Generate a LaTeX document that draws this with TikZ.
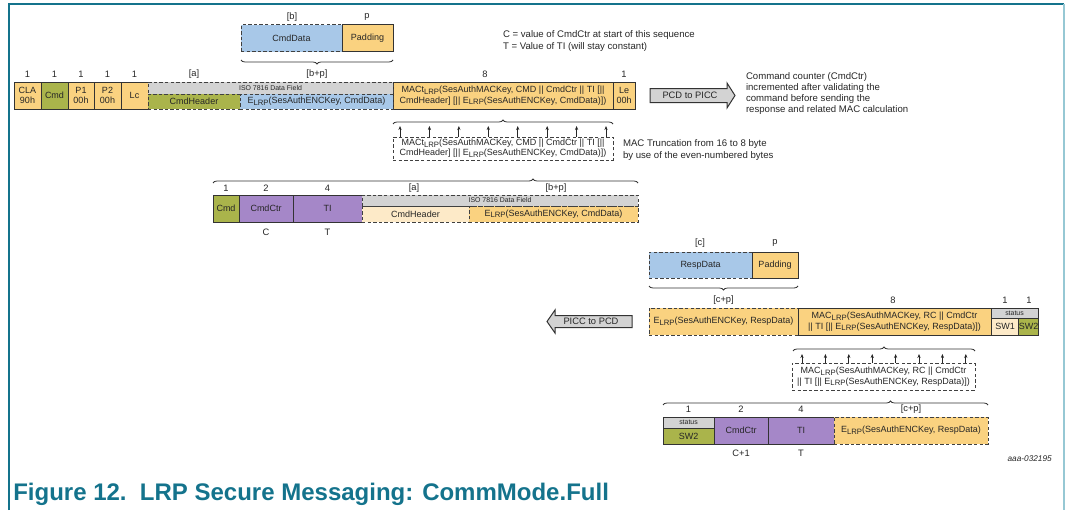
\documentclass[tikz,border=0pt]{standalone}
\usepackage{fontspec}
\setmainfont{Liberation Sans}
\usetikzlibrary{decorations.pathreplacing,arrows.meta,calc}
\definecolor{cOrange}{RGB}{250,210,128}
\definecolor{cOlive}{RGB}{170,180,75}
\definecolor{cBlue}{RGB}{168,200,232}
\definecolor{cGray}{RGB}{211,211,211}
\definecolor{cPurple}{RGB}{165,135,200}
\definecolor{cCream}{RGB}{253,234,200}
\definecolor{cTeal}{RGB}{20,115,140}
\definecolor{cFrameR}{RGB}{150,200,212}
\newcommand{\lrp}{\raisebox{-0.35ex}{\fontsize{5.8}{5.8}\selectfont LRP}}
\newcommand{\mycell}[7]{\node[#6, minimum width={(#4-#2)*0.75pt}, minimum height={(#5-#3)*0.75pt}] (#1) at ({(#2+#4)/2},{(#3+#5)/2}) {#7};}
\tikzset{
  base/.style={inner sep=0pt, outer sep=0pt, align=center, font=\fontsize{6.75}{8}\selectfont, text=black!85},
  solidbox/.style={base, draw=black!80, line width=0.75pt},
  dashbox/.style={base, draw=black!75, line width=0.75pt, dash pattern=on 2.6pt off 1.6pt},
  small/.style={font=\fontsize{5.2}{6}\selectfont},
  tight/.style={font=\fontsize{6.75}{7.4}\selectfont},
  lbl/.style={inner sep=0pt, outer sep=0pt, align=center, font=\fontsize{7}{8.2}\selectfont, text=black!85},
  note/.style={inner sep=0pt, outer sep=0pt, align=left, anchor=west, text=black!85},
  brc/.style={decorate, decoration={brace, amplitude=3pt}, line width=0.6pt, draw=black!80},
  tick/.style={-{Stealth[length=3pt,width=2.4pt]}, line width=0.6pt, draw=black!85},
  dirarrow/.style={draw=black!80, fill=cGray, line width=0.75pt},
  frameline/.style={draw=cTeal, line width=1.2pt}
}
\begin{document}
\begin{tikzpicture}[x=0.75pt,y=-0.75pt]
\useasboundingbox (0,0) rectangle (1066,510);
% frame
\draw[frameline] (9,510) -- (9,4) -- (1064,4);
\draw[draw=cFrameR, line width=1.2pt] (1064,4) -- (1064,510);

% ---------- top: command data + padding
\node[lbl] (lb) at (292,17) {[b]};
\node[lbl] (lp) at (367,17) {p};
\mycell{cmddata}{241}{25}{342}{52}{dashbox,fill=cBlue}{CmdData}
\mycell{padA}{342}{25}{393}{52}{solidbox,fill=cOrange}{Padding}
\coordinate (bA1) at (393,60);
\coordinate (bA2) at (241,60);
\draw[brc] (bA1) -- (bA2);

\node[note, font=\fontsize{7.2}{9}\selectfont] (legend) at (503,41) {C = value of CmdCtr at start of this sequence\\T = Value of TI (will stay constant)};

% labels row 1
\node[lbl] (l1) at (27.5,74) {1};
\node[lbl] (l2) at (54.5,74) {1};
\node[lbl] (l3) at (81,74) {1};
\node[lbl] (l4) at (107.5,74) {1};
\node[lbl] (l5) at (134.5,74) {1};
\node[lbl] (l6) at (194,74) {[a]};
\node[lbl] (l7) at (317,74) {[b+p]};
\node[lbl] (l8) at (485,74) {8};
\node[lbl] (l9) at (624,74) {1};

% row 1
\mycell{cla}{14}{82}{41}{109}{solidbox,fill=cOrange}{CLA\\90h}
\mycell{cmdA}{41}{82}{68}{109}{solidbox,fill=cOlive}{Cmd}
\mycell{pone}{68}{82}{94}{109}{solidbox,fill=cOrange}{P1\\00h}
\mycell{ptwo}{94}{82}{121}{109}{solidbox,fill=cOrange}{P2\\00h}
\mycell{lc}{121}{82}{148}{109}{solidbox,fill=cOrange}{Lc}
\mycell{macA}{393}{82}{613}{109}{solidbox,fill=cOrange}{MACt\lrp(SesAuthMACKey, CMD || CmdCtr || TI [||\\CmdHeader] [|| E\lrp(SesAuthENCKey, CmdData)])}
\mycell{le}{613}{82}{635}{109}{solidbox,fill=cOrange}{Le\\00h}
\mycell{isoA}{148}{82}{393}{94}{dashbox,small,fill=cGray}{ISO 7816 Data Field}
\mycell{hdrA}{148}{94}{240}{109}{dashbox,fill=cOlive}{CmdHeader}
\mycell{encA}{240}{94}{393}{109}{dashbox,fill=cBlue}{E\lrp(SesAuthENCKey, CmdData)}

% PCD to PICC
\draw[dirarrow] (650,88.5) -- (727,88.5) -- (727,83) -- (735,95.5) -- (727,108) -- (727,102.5) -- (650,102.5) -- cycle;
\node[lbl] (pcd) at (690,95.5) {PCD to PICC};
\node[note, font=\fontsize{7.2}{8.25}\selectfont] (cmdnote) at (746,93.5) {Command counter (CmdCtr)\\incremented after validating the\\command before sending the\\response and related MAC calculation};

% ---------- truncation A
\coordinate (bB1) at (393,124);
\coordinate (bB2) at (613,124);
\draw[brc] (bB1) -- (bB2);
\mycell{truncA}{393}{137}{613}{160}{dashbox,tight}{MACt\lrp(SesAuthMACKey, CMD || CmdCtr || TI [||\\CmdHeader] [|| E\lrp(SesAuthENCKey, CmdData)])}
\foreach \i in {0,...,7} {
  \coordinate (ta\i) at ($(truncA.north west)!{(7+29.43*\i)/220}!(truncA.north east)$);
  \draw[tick] (ta\i) -- ++(0,-11);
}
\node[note, font=\fontsize{7.2}{9}\selectfont] (truncnote) at (623,150) {MAC Truncation from 16 to 8 byte\\by use of the even-numbered bytes};

% ---------- row 2
\coordinate (bC1) at (213,183);
\coordinate (bC2) at (638,183);
\draw[brc, decoration={brace, amplitude=3pt, aspect=0.753}] (bC1) -- (bC2);
\node[lbl] (m1) at (226,188.5) {1};
\node[lbl] (m2) at (266,188.5) {2};
\node[lbl] (m3) at (327.5,188.5) {4};
\node[lbl] (m4) at (414,188.5) {[a]};
\node[lbl] (m5) at (556,188.5) {[b+p]};
\mycell{cmdB}{213}{195}{239}{222}{solidbox,fill=cOlive}{Cmd}
\mycell{ctrB}{239}{195}{293}{222}{solidbox,fill=cPurple}{CmdCtr}
\mycell{tiB}{293}{195}{362}{222}{solidbox,fill=cPurple}{TI}
\mycell{hdrB}{362}{206}{469}{222}{dashbox,fill=cCream}{CmdHeader}
\mycell{encB}{469}{206}{638}{222}{dashbox,fill=cOrange}{E\lrp(SesAuthENCKey, CmdData)}
\mycell{isoB}{362}{195}{638}{206}{dashbox,small,fill=cGray}{ISO 7816 Data Field}
\node[lbl] (cC) at (266,232) {C};
\node[lbl] (cT) at (327.5,232) {T};

% ---------- response data
\node[lbl] (lc2) at (700,243) {[c]};
\node[lbl] (lp2) at (775,243) {p};
\mycell{respdata}{649}{252}{752}{278}{dashbox,fill=cBlue}{RespData}
\mycell{padB}{752}{252}{798}{278}{solidbox,fill=cOrange}{Padding}
\coordinate (bD1) at (798,286);
\coordinate (bD2) at (649,286);
\draw[brc] (bD1) -- (bD2);
\node[lbl] (n1) at (723.5,300) {[c+p]};
\node[lbl] (n2) at (893,300) {8};
\node[lbl] (n3) at (1005,300) {1};
\node[lbl] (n4) at (1029,300) {1};
\mycell{encC}{649}{308}{798}{335}{dashbox,fill=cOrange}{E\lrp(SesAuthENCKey, RespData)}
\mycell{macC}{798}{308}{991}{335}{solidbox,fill=cOrange}{MAC\lrp(SesAuthMACKey, RC || CmdCtr\\|| TI [|| E\lrp(SesAuthENCKey, RespData)])}
\mycell{statC}{991}{308}{1038}{318}{solidbox,small,fill=cGray}{status}
\mycell{swoneC}{991}{318}{1019}{335}{solidbox,fill=cCream}{SW1}
\mycell{swtwoC}{1019}{318}{1038}{335}{solidbox,fill=cOlive}{SW2}

% PICC to PCD
\draw[dirarrow] (632,315.5) -- (555,315.5) -- (555,310) -- (547,321.5) -- (555,333) -- (555,327.5) -- (632,327.5) -- cycle;
\node[lbl] (picc) at (591,321.5) {PICC to PCD};

% ---------- truncation B
\coordinate (bE1) at (793,351);
\coordinate (bE2) at (975,351);
\draw[brc] (bE1) -- (bE2);
\mycell{truncB}{792}{363}{975}{390}{dashbox}{MAC\lrp(SesAuthMACKey, RC || CmdCtr\\|| TI [|| E\lrp(SesAuthENCKey, RespData)])}
\foreach \i in {0,...,7} {
  \coordinate (tb\i) at ($(truncB.north west)!{(10+23.4*\i)/183}!(truncB.north east)$);
  \draw[tick] (tb\i) -- ++(0,-9);
}

% ---------- row 4
\coordinate (bF1) at (663,405);
\coordinate (bF2) at (988,405);
\draw[brc, decoration={brace, amplitude=3pt, aspect=0.70}] (bF1) -- (bF2);
\node[lbl] (o1) at (688.5,409.5) {1};
\node[lbl] (o2) at (741,409.5) {2};
\node[lbl] (o3) at (801,409.5) {4};
\node[lbl] (o4) at (911,409.5) {[c+p]};
\mycell{statD}{663}{417}{714}{428}{solidbox,small,fill=cGray}{status}
\mycell{swtwoD}{663}{428}{714}{444}{solidbox,fill=cOlive}{SW2}
\mycell{ctrD}{714}{417}{768}{444}{solidbox,fill=cPurple}{CmdCtr}
\mycell{tiD}{768}{417}{834}{444}{solidbox,fill=cPurple}{TI}
\mycell{encD}{834}{417}{988}{444}{dashbox,fill=cOrange}{E\lrp(SesAuthENCKey, RespData)}
\node[lbl] (dC) at (741,453) {C+1};
\node[lbl] (dT) at (801,453) {T};
\node[inner sep=0pt, anchor=east, font=\fontsize{6.2}{7}\selectfont\itshape, text=black!85] (docid) at (1052,459) {aaa-032195};

% caption
\node[inner sep=0pt, anchor=west, font=\fontsize{18}{21}\selectfont\bfseries, text=cTeal] (caption) at (13,494) {Figure 12.\ \ LRP Secure Messaging: CommMode.Full};
\end{tikzpicture}
\end{document}
